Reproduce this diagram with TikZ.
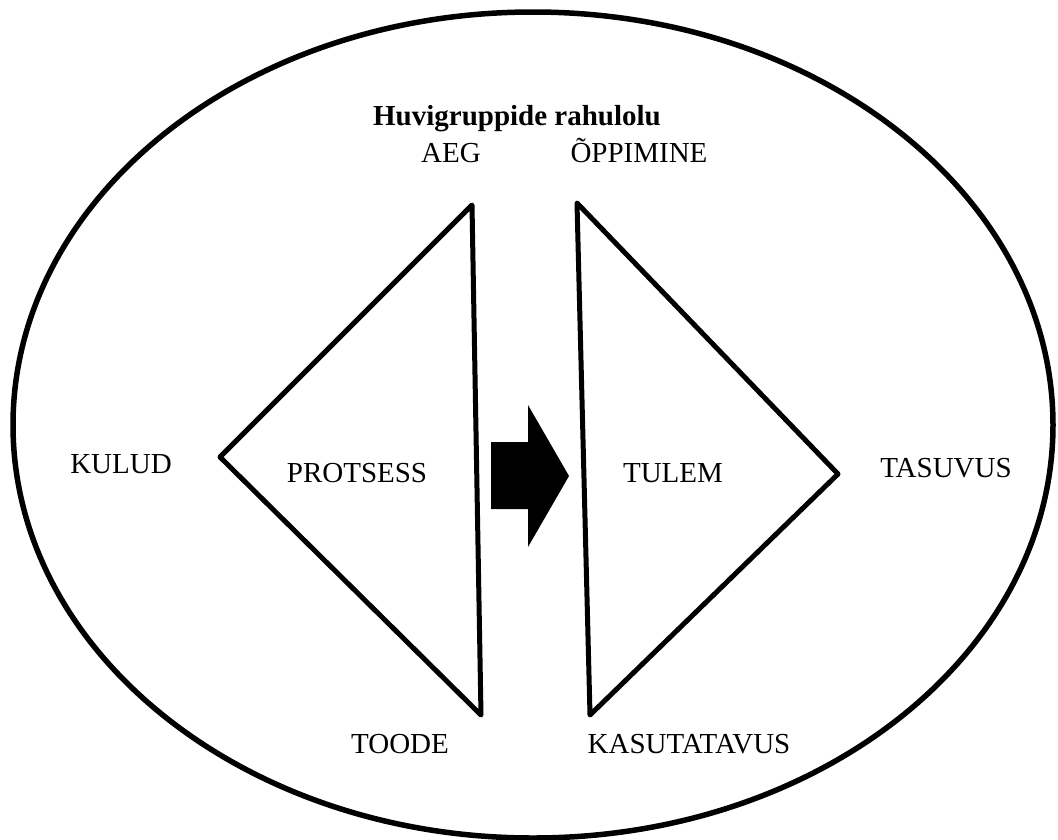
\documentclass[tikz,border=0pt]{standalone}
\usepackage{fontspec}
\setmainfont{Liberation Serif}
\begin{document}
\begin{tikzpicture}[x=1pt,y=-1pt,
  lbl/.style={anchor=base,inner sep=0pt,font=\fontsize{29}{35}\selectfont},
  ttl/.style={lbl,font=\fontsize{29}{35}\selectfont\bfseries},
  tri/.style={draw=black,line width=5pt,line join=round},
  ring/.style={draw=black,line width=5.5pt}]
\useasboundingbox (0,0) rectangle (1058,839);

% outer ellipse
\draw[ring] (533,425) ellipse [x radius=520, y radius=413];

% triangle corners
\coordinate (pTop) at (472,205);
\coordinate (pLeft) at (220,457);
\coordinate (pBot) at (481,715);
\coordinate (tTop) at (577,203);
\coordinate (tRight) at (838,474);
\coordinate (tBot) at (590,715);

% process and result triangles
\draw[tri] (pTop) -- (pLeft) -- (pBot) -- cycle;
\draw[tri] (tTop) -- (tRight) -- (tBot) -- cycle;

% block arrow between the triangles
\fill[black] (491,442) -- (528,442) -- (528,405) -- (569,476)
  -- (528,547) -- (528,509) -- (491,509) -- cycle;

% labels
\node[ttl] (title) at (517,125) {Huvigruppide rahulolu};
\node[lbl] (aeg) at (451,162) {AEG};
\node[lbl] (oppimine) at (639,162) {ÕPPIMINE};
\node[lbl] (kulud) at (121,473) {KULUD};
\node[lbl] (protsess) at (357,482) {PROTSESS};
\node[lbl] (tulem) at (673,482) {TULEM};
\node[lbl] (tasuvus) at (946,477) {TASUVUS};
\node[lbl] (toode) at (400,753) {TOODE};
\node[lbl] (kasutatavus) at (689,753) {KASUTATAVUS};
\end{tikzpicture}
\end{document}
